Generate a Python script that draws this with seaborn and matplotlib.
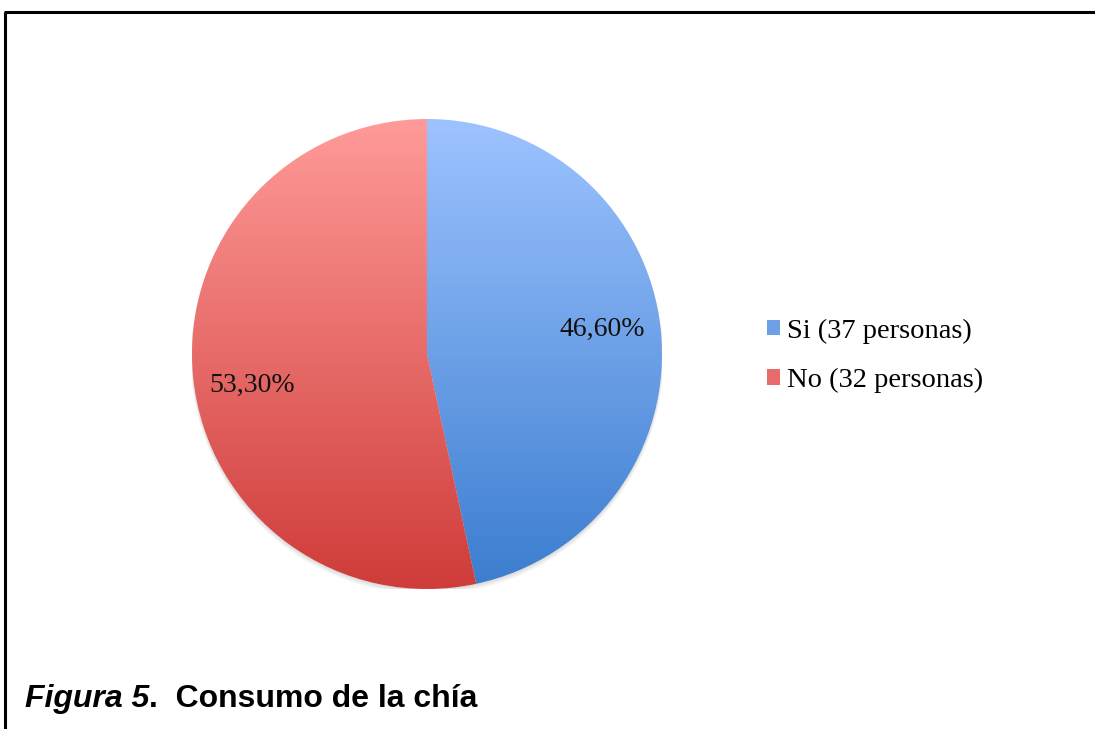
import numpy as np
import matplotlib
matplotlib.use("Agg")
import matplotlib.pyplot as plt
from matplotlib.patches import Patch, Circle
from matplotlib.lines import Line2D
import seaborn as sns

# Data
categories = ["Si (37 personas)", "No (32 personas)"]
percentages = [46.60, 53.30]
top_colors = ["#9dc3ff", "#ff9b99"]
bottom_colors = ["#3b7dcf", "#cf3c39"]
title_bold_italic = "Figura 5"
title_rest = ".  Consumo de la chía"

sns.set_theme(style="white")
plt.rcParams["font.family"] = ["Liberation Serif", "DejaVu Serif"]
plt.rcParams["text.color"] = "black"

W, H = 1095, 729
fig = plt.figure(figsize=(W / 100, H / 100), dpi=100)
fig.patch.set_facecolor("white")

# Pie axes placed in pixel terms: centre (427, 354), radius 235
cx, cy, r = 427, 354, 235
ax = fig.add_axes([(cx - r) / W, (H - cy - r) / H, 2 * r / W, 2 * r / H])
ax.set_axis_off()

# soft shadow under the pie
for k, a in enumerate([0.06, 0.06, 0.05, 0.04]):
    ax.add_patch(Circle((0, -0.006 - 0.004 * k), 1.0 + 0.002 * k,
                        facecolor="#555555", edgecolor="none", alpha=a, zorder=0))

vals = iter(percentages)
wedges, texts, autotexts = ax.pie(
    percentages,
    startangle=90,
    counterclock=False,
    radius=1,
    pctdistance=0.75,
    autopct=lambda p: f"{next(vals):.2f}%".replace(".", ","),
    wedgeprops=dict(linewidth=0, edgecolor="none"),
    textprops=dict(fontsize=20, color="#111111"),
)

# vertical gradient fill clipped to each wedge
grad = np.linspace(0, 1, 256).reshape(-1, 1)
for w, c0, c1 in zip(wedges, top_colors, bottom_colors):
    w.set_facecolor("none")
    cmap = sns.blend_palette([c0, c1], n_colors=256, as_cmap=True)
    im = ax.imshow(grad, extent=(-1, 1, -1, 1), origin="upper", cmap=cmap,
                   aspect="auto", interpolation="bilinear", zorder=1)
    im.set_clip_path(w)

# small vertical nudges of the percentage labels
for t, dy in zip(autotexts, [0.025, -0.055]):
    x, y = t.get_position()
    t.set_position((x, y + dy))
    t.set_zorder(3)

ax.set_xlim(-1.0, 1.0)
ax.set_ylim(-1.0, 1.0)

# legend with mid-tone squares
mid = [sns.blend_palette([a, b], 3)[1] for a, b in zip(top_colors, bottom_colors)]
handles = [Patch(facecolor=m, edgecolor="none") for m in mid]
fig.legend(handles, categories, loc="center left",
           bbox_to_anchor=(767 / W, 1 - 356 / H), frameon=False,
           fontsize=20.5, handlelength=0.45, handleheight=0.45,
           handletextpad=0.25, labelspacing=0.85, borderpad=0, borderaxespad=0)

# frame lines (top and left)
fig.add_artist(Line2D([4 / W, 1], [1 - 11.5 / H, 1 - 11.5 / H],
                      transform=fig.transFigure, color="black", lw=2.2,
                      solid_capstyle="butt"))
fig.add_artist(Line2D([4.5 / W, 4.5 / W], [0, 1 - 11.5 / H],
                      transform=fig.transFigure, color="black", lw=2.2,
                      solid_capstyle="butt"))

# caption
base_y = 1 - 707 / H
t1 = fig.text(25 / W, base_y, title_bold_italic, fontsize=23,
              fontweight="bold", fontstyle="italic", color="black",
              family=["Liberation Sans", "DejaVu Sans"], va="baseline")
fig.canvas.draw()
bb = t1.get_window_extent()
fig.text(bb.x1 / W, base_y, title_rest, fontsize=23, fontweight="bold",
         color="black", family=["Liberation Sans", "DejaVu Sans"], va="baseline")

fig.savefig("out.png", dpi=100, facecolor="white")
